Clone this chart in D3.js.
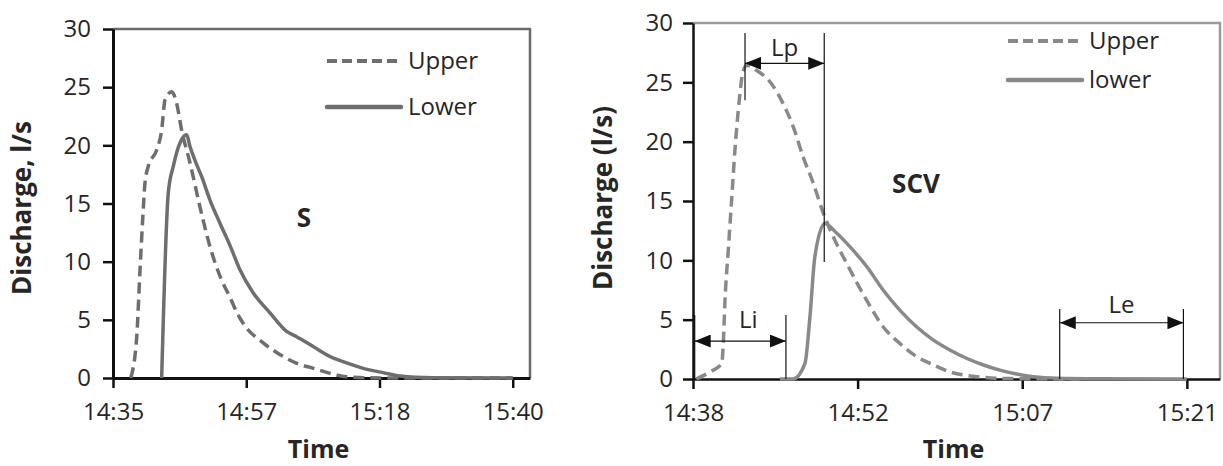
<!DOCTYPE html>
<html>
<head>
<meta charset="utf-8">
<script src="https://cdn.jsdelivr.net/npm/d3@7"></script>
<style>
  body { margin: 0; background: #fff; }
  svg text { font-family: "Open Sans", "Liberation Sans", sans-serif; fill: #262626; }
</style>
</head>
<body>
<svg id="chart" width="1223" height="466"></svg>
<script>
// minutes after the first tick, discharge in l/s

// panel S (first tick 14:35, one major unit = 21.6 min)
var sTickLabels = ["14:35", "14:57", "15:18", "15:40"];
var sTickMinutes = [0, 21.6, 43.2, 64.8];
var sUpper = [[2.87,0],[3.84,3.5],[4.38,9.3],[4.81,13.6],[5.19,16.8],[5.72,18.2],[7.08,19.6],
  [7.89,21.3],[8.43,23.9],[9.51,24.6],[10.32,23.6],[11.13,21.3],[12.48,18.5],[14.1,14.7],
  [15.72,11.3],[17.62,8.4],[19.0,6.9],[20.1,5.6],[21.1,4.7],[24.4,3.0],[27.1,2.0],[29.8,1.26],
  [32.5,0.83],[35.2,0.4],[37.9,0.1],[43.8,0],[64.8,0]];
var sLower = [[7.89,0],[8.96,15.9],[9.77,18.2],[10.86,20.2],[11.94,20.9],[12.48,19.9],
  [13.29,18.7],[14.38,17.3],[15.72,15.3],[17.34,13.3],[18.96,11.4],[20.58,9.3],[22.74,7.3],
  [25.45,5.6],[28.15,4.0],[29.77,3.55],[32.46,2.7],[35.17,1.85],[37.88,1.3],[40.57,0.83],
  [43.76,0.46],[46.5,0.17],[51.9,0.03],[64.8,0]];

// panel SCV (first tick 14:38, one major unit = 14.4 min)
var scvTickLabels = ["14:38", "14:52", "15:07", "15:21"];
var scvTickMinutes = [0, 14.4, 28.8, 43.2];
var scvUpper = [[0.3,0],[1.49,0.6],[2.51,1.3],[2.65,3.0],[2.8,6.65],[3.09,10.9],[3.38,15.1],
  [3.67,19.3],[4.05,23.5],[4.34,25.75],[4.69,26.45],[5.57,26.0],[6.73,25.05],[7.89,23.2],
  [8.77,21.25],[9.64,18.7],[10.52,16.5],[11.39,14.0],[12.26,12.0],[13.44,9.75],[15.18,6.65],
  [16.63,4.4],[18.09,3.0],[19.55,1.9],[21.0,1.2],[22.47,0.6],[24.8,0.2],[26.84,0.05],[33.8,0]];
var scvLower = [[7.6,0],[8.74,0],[9.79,1.3],[10.23,5.25],[10.66,10.3],[11.54,13.1],
  [12.56,12.3],[13.72,11.15],[15.18,9.5],[16.63,7.5],[18.09,5.8],[19.55,4.4],[21.0,3.3],
  [22.47,2.45],[23.92,1.75],[25.35,1.2],[26.84,0.75],[28.3,0.42],[29.75,0.2],[31.8,0.06],
  [35.6,0.02],[43.2,0]];

// lag spans on SCV: [from, to, arrow level], tick tops and bottoms
var lagNames = ["Li", "Lp", "Le"];
var lagSpans = [[0.15, 8.13, 3.2], [4.55, 11.48, 26.6], [32.08, 42.9, 4.74]];
var lagTops = [[5.4, 5.4], [29.15, 29.15], [5.9, 5.9]];
var lagBottoms = [[0, 0], [23.5, 9.86], [0, 0]];

var yTicks = [0, 5, 10, 15, 20, 25, 30];

var svg = d3.select("#chart");

svg.append("defs").append("marker")
  .attr("id", "head")
  .attr("viewBox", "0 0 16 13")
  .attr("refX", 16).attr("refY", 6.5)
  .attr("markerWidth", 16).attr("markerHeight", 13)
  .attr("markerUnits", "userSpaceOnUse")
  .attr("orient", "auto-start-reverse")
  .append("path").attr("d", "M0,0L16,6.5L0,13Z").attr("fill", "#111");

function drawPanel(p) {
  var x = d3.scaleLinear().domain([0, p.xMax]).range([p.left, p.right]);
  var y = d3.scaleLinear().domain([0, 30]).range([p.bottom, p.top]);
  var g = svg.append("g");

  // frame top / right
  g.append("path")
    .attr("d", "M" + p.left + "," + p.top + "H" + p.right + "V" + p.bottom)
    .attr("fill", "none").attr("stroke", p.frame).attr("stroke-width", 2.5);

  var ya = g.append("g").attr("transform", "translate(" + p.left + ",0)")
    .call(d3.axisLeft(y).tickValues(yTicks).tickSize(10).tickSizeOuter(0).tickPadding(p.yPad));
  var xa = g.append("g").attr("transform", "translate(0," + p.bottom + ")")
    .call(d3.axisBottom(x).tickValues(p.tickMin).tickSize(10).tickSizeOuter(0).tickPadding(15)
      .tickFormat(function(d, i) { return p.tickLab[i]; }));
  [ya, xa].forEach(function(a) {
    a.select(".domain").attr("stroke", "#111").attr("stroke-width", p.axisW);
    a.selectAll(".tick line").attr("stroke", "#111").attr("stroke-width", 2.5);
    a.selectAll(".tick text").attr("font-size", 24).attr("fill", "#262626");
  });

  var line = d3.line().x(function(d) { return x(d[0]); }).y(function(d) { return y(d[1]); })
    .curve(d3.curveMonotoneX);
  g.append("path").attr("d", line(p.upper)).attr("fill", "none")
    .attr("stroke", p.col).attr("stroke-width", 3.5).attr("stroke-dasharray", "11,6");
  g.append("path").attr("d", line(p.lower)).attr("fill", "none")
    .attr("stroke", p.col).attr("stroke-width", 3.5);

  // legend
  var lg = g.append("g").attr("transform", "translate(" + p.legX + "," + p.legY + ")");
  lg.append("line").attr("x1", 0).attr("x2", p.legW).attr("y1", 0).attr("y2", 0)
    .attr("stroke", p.col).attr("stroke-width", 4).attr("stroke-dasharray", "10,5");
  lg.append("line").attr("x1", 0).attr("x2", p.legW).attr("y1", p.legGap).attr("y2", p.legGap)
    .attr("stroke", p.col).attr("stroke-width", 4.5).attr("stroke-linecap", "round");
  lg.append("text").attr("x", p.legW + 7).attr("y", 0).attr("dy", "0.34em")
    .attr("font-size", 24).text(p.names[0]);
  lg.append("text").attr("x", p.legW + 7).attr("y", p.legGap).attr("dy", "0.34em")
    .attr("font-size", 24).text(p.names[1]);

  g.append("text").attr("x", p.tagX).attr("y", p.tagY).attr("text-anchor", "middle")
    .attr("font-size", 26).attr("font-weight", "bold").attr("fill", "#111").text(p.tag);

  g.append("text").attr("x", (p.left + p.right) / 2 - 3).attr("y", 458).attr("text-anchor", "middle")
    .attr("font-size", 25).attr("font-weight", "bold").attr("fill", "#111").text("Time");
  g.append("text").attr("transform", "translate(" + p.yTitleX + "," + p.yTitleY + ") rotate(-90)")
    .attr("text-anchor", "middle").attr("font-size", 26).attr("font-weight", "bold")
    .attr("fill", "#111").text(p.yTitle);

  return { g: g, x: x, y: y };
}

drawPanel({
  left: 113, right: 530, top: 29, bottom: 378, xMax: 67.6,
  tickMin: sTickMinutes, tickLab: sTickLabels, upper: sUpper, lower: sLower,
  col: "#6e6e6e", frame: "#6b6b6b", axisW: 3, yPad: 12,
  legX: 327, legY: 61, legW: 74, legGap: 46, names: ["Upper", "Lower"],
  tag: "S", tagX: 304, tagY: 227,
  yTitle: "Discharge, l/s", yTitleX: 31, yTitleY: 208
});

var scv = drawPanel({
  left: 693, right: 1220, top: 23, bottom: 379, xMax: 46.1,
  tickMin: scvTickMinutes, tickLab: scvTickLabels, upper: scvUpper, lower: scvLower,
  col: "#898989", frame: "#9a9a9a", axisW: 2.5, yPad: 10,
  legX: 1008, legY: 41, legW: 74, legGap: 39, names: ["Upper", "lower"],
  tag: "SCV", tagX: 916, tagY: 193,
  yTitle: "Discharge (l/s)", yTitleX: 612, yTitleY: 198
});

// lag annotations
var labelShift = [[8, 13], [0, 7], [0, 10]];
var ann = scv.g.append("g");
lagSpans.forEach(function(s, i) {
  var x = scv.x, y = scv.y;
  ann.append("line").attr("x1", x(s[0])).attr("x2", x(s[0]))
    .attr("y1", y(lagTops[i][0])).attr("y2", y(lagBottoms[i][0])).attr("stroke", "#111").attr("stroke-width", 1.2);
  ann.append("line").attr("x1", x(s[1])).attr("x2", x(s[1]))
    .attr("y1", y(lagTops[i][1])).attr("y2", y(lagBottoms[i][1])).attr("stroke", "#111").attr("stroke-width", 1.2);
  ann.append("line").attr("x1", x(s[0])).attr("x2", x(s[1]))
    .attr("y1", y(s[2])).attr("y2", y(s[2])).attr("stroke", "#111").attr("stroke-width", 1.2)
    .attr("marker-start", "url(#head)").attr("marker-end", "url(#head)");
  ann.append("text").attr("x", (x(s[0]) + x(s[1])) / 2 + labelShift[i][0]).attr("y", y(s[2]) - labelShift[i][1])
    .attr("text-anchor", "middle").attr("font-size", 24).text(lagNames[i]);
});
</script>
</body>
</html>
